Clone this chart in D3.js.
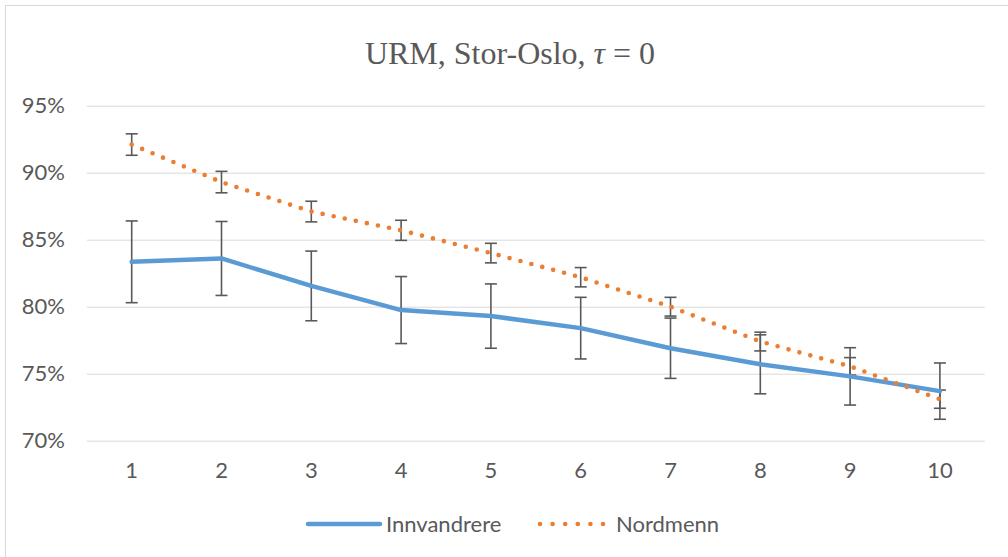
<!DOCTYPE html>
<html>
<head>
<meta charset="utf-8">
<script src="https://cdn.jsdelivr.net/npm/d3@7"></script>
<style>
  html, body { margin: 0; padding: 0; background: #fff; }
  svg { display: block; }
</style>
</head>
<body>
<script>
// ---- data ----
const categories = ["1", "2", "3", "4", "5", "6", "7", "8", "9", "10"];
const innvandrere = [83.35, 83.6, 81.55, 79.75, 79.3, 78.4, 76.9, 75.7, 74.8, 73.7];
const innvandrereErr = [3.05, 2.76, 2.6, 2.5, 2.4, 2.3, 2.25, 2.2, 2.14, 2.1];
const nordmenn = [92.1, 89.3, 87.1, 85.7, 84.0, 82.2, 80.0, 77.4, 75.55, 73.1];
const nordmennErr = [0.8, 0.8, 0.77, 0.75, 0.73, 0.72, 0.7, 0.7, 0.65, 0.68];
const yTicks = [70, 75, 80, 85, 90, 95];
const seriesNames = ["Innvandrere", "Nordmenn"];

// ---- layout ----
const W = 1008, H = 557;
const textColor = "#595959";
const sansFont = "Lato, 'Open Sans', sans-serif";

const svg = d3.select("body").append("svg").attr("width", W).attr("height", H);

// chart border
svg.append("rect")
  .attr("x", 5.5).attr("y", 5.5).attr("width", W + 10).attr("height", H + 10)
  .attr("fill", "#fff").attr("stroke", "#d9d9d9").attr("stroke-width", 1);

const x = d3.scaleBand().domain(categories).range([86.8, 984.8]);
const y = d3.scaleLinear().domain([70, 95]).range([440.7, 105.7]);

// y axis + gridlines
const yAxis = svg.append("g")
  .attr("transform", "translate(86.8,0)")
  .call(d3.axisLeft(y).tickValues(yTicks).tickSize(-(984.8 - 86.8)).tickPadding(22)
        .tickFormat(d => d + "%"));
yAxis.select(".domain").remove();
yAxis.selectAll(".tick line").attr("stroke", "#d9d9d9").attr("stroke-width", 1);
yAxis.selectAll(".tick text")
  .attr("fill", textColor).style("font-family", sansFont).style("font-size", "22px");

// x axis labels
const xAxis = svg.append("g")
  .attr("transform", "translate(0,440.7)")
  .call(d3.axisBottom(x).tickSize(0).tickPadding(22));
xAxis.select(".domain").remove();
xAxis.selectAll(".tick text")
  .attr("fill", textColor).style("font-family", sansFont).style("font-size", "22px");

const cx = d => x(d) + x.bandwidth() / 2;

// error bars
function errorBars(vals, errs) {
  const g = svg.append("g").attr("stroke", "#595959").attr("stroke-width", 1.6).attr("fill", "none");
  categories.forEach((c, i) => {
    const xc = cx(c), y1 = y(vals[i] + errs[i]), y2 = y(vals[i] - errs[i]);
    g.append("line").attr("x1", xc).attr("x2", xc).attr("y1", y1).attr("y2", y2);
    g.append("line").attr("x1", xc - 6).attr("x2", xc + 6).attr("y1", y1).attr("y2", y1);
    g.append("line").attr("x1", xc - 6).attr("x2", xc + 6).attr("y1", y2).attr("y2", y2);
  });
}
errorBars(innvandrere, innvandrereErr);
errorBars(nordmenn, nordmennErr);

const line = d3.line().x((d, i) => cx(categories[i])).y(d => y(d));

svg.append("path").datum(innvandrere)
  .attr("d", line).attr("fill", "none")
  .attr("stroke", "#5b9bd5").attr("stroke-width", 4.5)
  .attr("stroke-linejoin", "round").attr("stroke-linecap", "round");

svg.append("path").datum(nordmenn)
  .attr("d", line).attr("fill", "none")
  .attr("stroke", "#ed7d31").attr("stroke-width", 4.6)
  .attr("stroke-linecap", "round").attr("stroke-dasharray", "0 11.3");

// title
const title = svg.append("text")
  .attr("x", 510).attr("y", 63.5).attr("text-anchor", "middle")
  .attr("fill", textColor)
  .style("font-family", "'Liberation Serif', 'Times New Roman', serif")
  .style("font-size", "32px");
title.append("tspan").text("URM, Stor-Oslo, ");
title.append("tspan").style("font-style", "italic").text("τ");
title.append("tspan").text(" = 0");

// legend
const leg = svg.append("g");
leg.append("line").attr("x1", 308).attr("x2", 380).attr("y1", 524).attr("y2", 524)
  .attr("stroke", "#5b9bd5").attr("stroke-width", 4.5).attr("stroke-linecap", "round");
leg.append("text").attr("x", 386).attr("y", 532).text(seriesNames[0])
  .attr("fill", textColor).style("font-family", sansFont).style("font-size", "22px");
leg.append("line").attr("x1", 540).attr("x2", 604).attr("y1", 524).attr("y2", 524)
  .attr("stroke", "#ed7d31").attr("stroke-width", 4.6)
  .attr("stroke-linecap", "round").attr("stroke-dasharray", "0 12.6");
leg.append("text").attr("x", 616).attr("y", 532).text(seriesNames[1])
  .attr("fill", textColor).style("font-family", sansFont).style("font-size", "22px");
</script>
</body>
</html>
